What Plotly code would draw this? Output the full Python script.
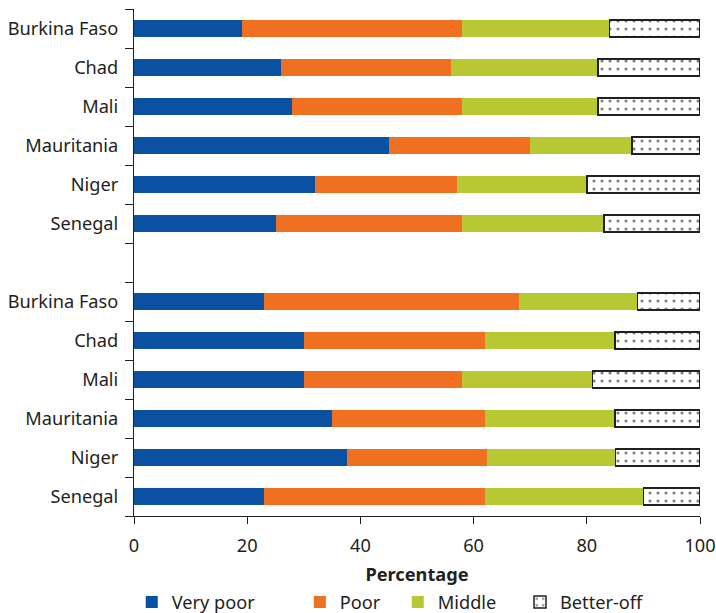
import plotly.graph_objects as go

countries = ["Burkina Faso", "Chad", "Mali", "Mauritania", "Niger", "Senegal"]

very_poor_top = [19, 26, 28, 45, 32, 25]
poor_top = [39, 30, 30, 25, 25, 33]
middle_top = [26, 26, 24, 18, 23, 25]
better_top = [16, 18, 18, 12, 20, 17]

very_poor_bot = [23, 30, 30, 35, 37.6, 23]
poor_bot = [45, 32, 28, 27, 24.7, 39]
middle_bot = [21, 23, 23, 23, 22.8, 28]
better_bot = [11, 15, 19, 15, 14.9, 10]

x_ticks = [0, 20, 40, 60, 80, 100]

# slot positions: 6 bars, one empty slot, 6 bars
pos_top = [i + 0.5 for i in range(6)]
pos_bot = [i + 7.5 for i in range(6)]
positions = pos_top + pos_bot
labels = countries + countries

series = [
    ("Very poor", very_poor_top + very_poor_bot, "#0A52A1"),
    ("Poor", poor_top + poor_bot, "#F07022"),
    ("Middle", middle_top + middle_bot, "#B8C832"),
    ("Better-off", better_top + better_bot, "white"),
]
legend_x = [-0.004, 0.293, 0.466, 0.682]

FONT = "Noto Sans"
FS = 18.2
INK = "#231F20"
fig = go.Figure()
for i, (name, vals, col) in enumerate(series):
    if name == "Better-off":
        marker = dict(color="white", line=dict(color=INK, width=1.5),
                      pattern=dict(shape=".", fgcolor="#000000", bgcolor="white",
                                   size=8, solidity=0.12, fillmode="overlay"))
    else:
        marker = dict(color=col, line=dict(width=0))
    lg = "legend" if i == 0 else f"legend{i+1}"
    fig.add_trace(go.Bar(
        y=positions, x=vals, name=name, orientation="h",
        marker=marker, width=0.43, legend=lg, showlegend=True,
    ))

legend_common = dict(orientation="h", y=-0.17, yanchor="middle", xanchor="left",
                     font=dict(family=FONT, size=FS, color=INK),
                     bgcolor="rgba(0,0,0,0)", itemwidth=30)

layout_legends = {}
for i, lx in enumerate(legend_x):
    key = "legend" if i == 0 else f"legend{i+1}"
    layout_legends[key] = dict(legend_common, x=lx)

fig.update_layout(
    barmode="stack",
    showlegend=True,
    width=716, height=613,
    margin=dict(l=134, r=16, t=9, b=97, autoexpand=False),
    plot_bgcolor="white", paper_bgcolor="white",
    font=dict(family=FONT, size=FS, color=INK),
    xaxis=dict(range=[0, 100], tickvals=x_ticks, ticks="outside", ticklen=7,
               tickcolor=INK, showline=True, linecolor=INK, linewidth=1.2,
               showgrid=False, zeroline=False, automargin=False,
               ticklabelstandoff=6,
               title=dict(text="<b>Percentage</b>", standoff=12,
                          font=dict(family=FONT, size=FS))),
    yaxis=dict(range=[13, 0], tickvals=positions, ticktext=labels, ticks="",
               ticklen=0, showline=True, linecolor=INK, linewidth=1.2,
               showgrid=False, zeroline=False, ticklabelstandoff=11,
               automargin=False,
               minor=dict(ticks="outside", tick0=0, dtick=1, ticklen=8,
                          tickcolor=INK, tickwidth=1.2, showgrid=False)),
    bargap=0.57,
    **layout_legends,
)

fig.write_html(
    "out.html",
    config={"displayModeBar": False},
    post_script="document.body.style.margin='0';document.body.style.overflow='hidden';",
)
